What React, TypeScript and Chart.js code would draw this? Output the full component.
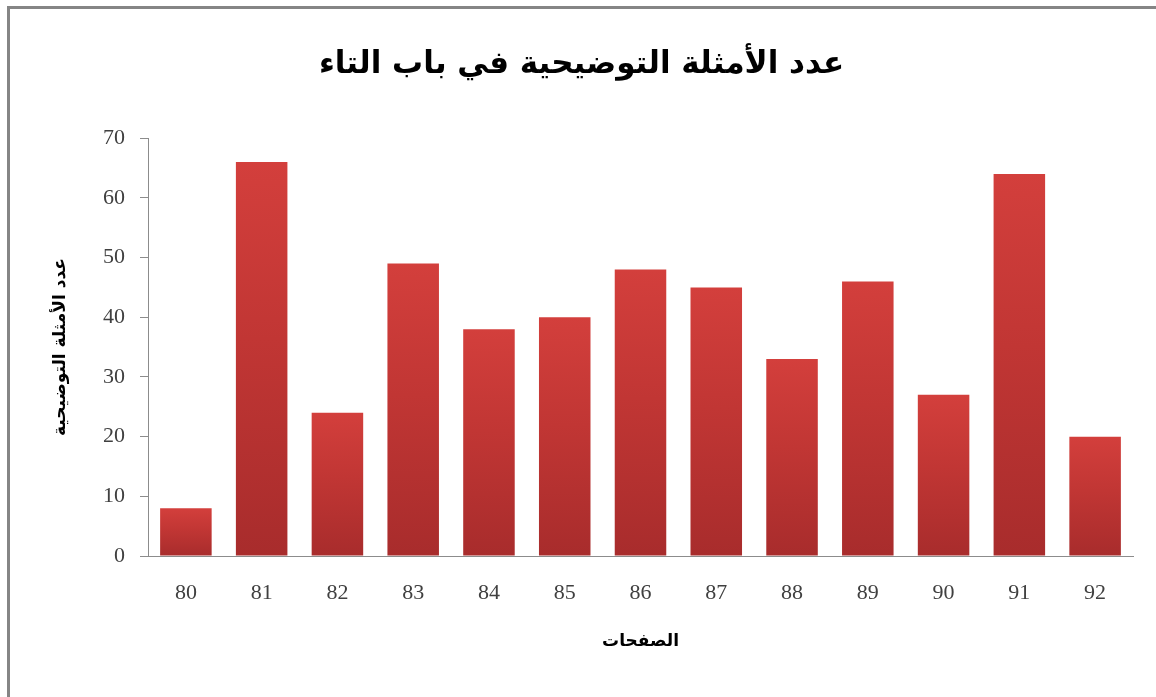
import React, { useEffect, useRef } from "react";
import { Chart, registerables } from "chart.js";

Chart.register(...registerables);

const pages = ["80", "81", "82", "83", "84", "85", "86", "87", "88", "89", "90", "91", "92"];
const exampleCounts = [8, 66, 24, 49, 38, 40, 48, 45, 33, 46, 27, 64, 20];
const yTicks = [0, 10, 20, 30, 40, 50, 60, 70];

const chartTitle = "عدد الأمثلة التوضيحية في باب التاء";
const xTitle = "الصفحات";
const yTitle = "عدد الأمثلة التوضيحية";

export default function App() {
  const ref = useRef<HTMLCanvasElement | null>(null);

  useEffect(() => {
    document.body.style.overflow = "hidden";
    if (!ref.current) return;
    const chart = new Chart(ref.current, {
      type: "bar",
      data: {
        labels: pages,
        datasets: [
          {
            label: yTitle,
            data: exampleCounts,
            backgroundColor: (c: any) => {
              const ch = c.chart;
              const ys = ch.scales && ch.scales.y;
              if (!ys || c.type !== "data" || !c.parsed) return "#c03535";
              const top = ys.getPixelForValue(c.parsed.y);
              const bot = ys.getPixelForValue(0);
              if (!isFinite(top) || !isFinite(bot) || top === bot) return "#c03535";
              const g = ch.ctx.createLinearGradient(0, top, 0, bot);
              g.addColorStop(0, "#d33f3c");
              g.addColorStop(0.45, "#c13634");
              g.addColorStop(1, "#a82c2c");
              return g;
            },
            borderWidth: 0,
            barPercentage: 0.68,
            categoryPercentage: 1,
          },
        ],
      },
      options: {
        animation: false,
        responsive: false,
        maintainAspectRatio: false,
        layout: { padding: { left: 30, right: 23, top: 0, bottom: 0 } },
        plugins: {
          legend: { display: false },
          tooltip: { enabled: false },
          title: {
            display: true,
            text: chartTitle,
            color: "#000",
            font: { family: "'DejaVu Sans', serif", size: 31, weight: "bold" },
            padding: { top: 46, bottom: 55 },
          },
        },
        scales: {
          x: {
            grid: { display: false, drawTicks: false },
            border: { display: true, color: "#8c8c8c", width: 1 },
            ticks: {
              color: "#404040",
              font: { family: "'Liberation Serif', serif", size: 22 },
              padding: 24,
              maxRotation: 0,
            },
            title: {
              display: true,
              text: xTitle,
              color: "#000",
              font: { family: "'DejaVu Sans', serif", size: 17, weight: "bold" },
              padding: { top: 0, bottom: 45 },
            },
            afterFit: (s: any) => {
              s.height = 141;
            },
          },
          y: {
            min: 0,
            max: 70,
            afterBuildTicks: (s: any) => {
              s.ticks = yTicks.map((v) => ({ value: v }));
            },
            grid: {
              display: true,
              drawOnChartArea: false,
              drawTicks: true,
              tickLength: 8,
              color: "#8c8c8c",
            },
            border: { display: true, color: "#8c8c8c", width: 1 },
            ticks: {
              color: "#404040",
              font: { family: "'Liberation Serif', serif", size: 22 },
              padding: 15,
            },
            title: {
              display: true,
              text: yTitle,
              color: "#000",
              font: { family: "'DejaVu Sans', serif", size: 17, weight: "bold" },
              padding: { top: 20, bottom: 0 },
            },
            afterFit: (s: any) => {
              s.width = 118;
            },
          },
        },
      },
    });
    return () => chart.destroy();
  }, []);

  return (
    <div
      style={{
        position: "fixed",
        left: 0,
        top: 0,
        width: 1156,
        height: 697,
        overflow: "hidden",
        background: "#fff",
      }}
    >
      <div
        style={{
          position: "absolute",
          left: 7,
          top: 6,
          width: 1300,
          height: 900,
          borderTop: "3px solid #858585",
          borderLeft: "3px solid #858585",
        }}
      />
      <canvas
        ref={ref}
        width={1156}
        height={697}
        style={{ position: "absolute", left: 0, top: 0, display: "block", width: 1156, height: 697 }}
      />
    </div>
  );
}
